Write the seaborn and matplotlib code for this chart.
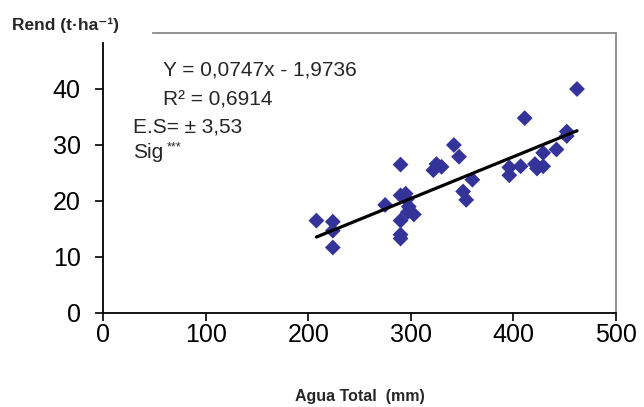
import matplotlib.pyplot as plt
import numpy as np
import pandas as pd
import seaborn as sns

# Agua total (mm) vs rendimiento (t/ha)
agua = [208, 224, 224, 224, 275, 290, 290, 290, 290, 290, 295, 296, 297, 298,
        303, 325, 322, 330, 342, 347, 351, 354, 360, 396, 396, 407, 411, 421,
        423, 429, 429, 442, 452, 452, 462]
rend = [16.5, 16.3, 14.7, 11.7, 19.3, 26.5, 21.0, 16.5, 14.0, 13.3, 21.3, 20.3,
        18.0, 19.0, 17.6, 26.6, 25.5, 26.1, 30.0, 27.9, 21.7, 20.2, 23.8, 26.0,
        24.6, 26.2, 34.8, 26.6, 25.8, 26.2, 28.6, 29.2, 32.4, 31.6, 40.0]

pendiente = 0.0747
intercepto = -1.9736
x_ticks = [0, 100, 200, 300, 400, 500]
y_ticks = [0, 10, 20, 30, 40]

sns.set_style('white')
plt.rcParams['font.family'] = ['Liberation Sans', 'DejaVu Sans']

df = pd.DataFrame({'agua': agua, 'rend': rend})

fig = plt.figure(figsize=(6.44, 4.07), dpi=100)
ax = fig.add_axes([103 / 644, 1 - 313 / 407, 513 / 644, 280 / 407])

sns.scatterplot(data=df, x='agua', y='rend', marker='D', s=65,
                color='#33339a', edgecolor='none', ax=ax, zorder=3)

# recta de regresion
xr = np.array([df.agua.min(), df.agua.max()])
sns.lineplot(x=xr, y=pendiente * xr + intercepto, color='black', lw=2.3,
             ax=ax, zorder=4)

ax.set_xlim(0, 500)
ax.set_ylim(0, 50)
ax.set_xticks(x_ticks)
ax.set_yticks(y_ticks)
ax.set_xlabel('')
ax.set_ylabel('')

for s in ['left', 'bottom']:
    ax.spines[s].set_color('black')
    ax.spines[s].set_linewidth(1.3)
for s in ['top', 'right']:
    ax.spines[s].set_color('#8a8a8a')
    ax.spines[s].set_linewidth(1.3)
ax.spines['left'].set_bounds(0, 48.2)
ax.spines['top'].set_bounds(48.5, 500)

ax.tick_params(axis='both', direction='out', length=6, width=1.2,
               labelsize=18, colors='black')
ax.tick_params(axis='y', pad=10)
ax.tick_params(axis='x', pad=1)
ax.tick_params(bottom=True, left=True)

tam = 15
ax.text(58.5, 43.4, 'Y = 0,0747x - 1,9736', fontsize=tam, va='center', ha='left')
ax.text(58.5, 38.0, 'R² = 0,6914', fontsize=tam, va='center', ha='left')
ax.text(29, 33.2, 'E.S= ± 3,53', fontsize=tam, va='center', ha='left')
ax.text(29, 28.6, 'Sig', fontsize=tam, va='center', ha='left')
ax.text(62, 29.6, '***', fontsize=9, va='center', ha='left')

fig.text(12 / 644, 1 - 25 / 407, 'Rend (t·ha⁻¹)', fontsize=12.5,
         fontweight='bold', va='center', ha='left')
fig.text(360 / 644, 1 - 397 / 407, 'Agua Total  (mm)', fontsize=11.5,
         fontweight='bold', va='center', ha='center')

fig.savefig('out.png', dpi=100)
